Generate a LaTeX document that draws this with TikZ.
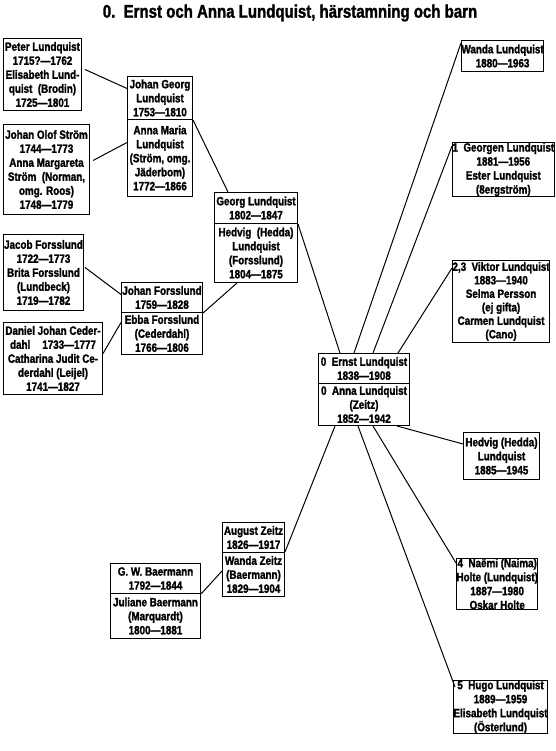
\documentclass[tikz,border=0pt]{standalone}
\usepackage{fontspec}
\setmainfont{Liberation Sans}[FakeStretch=0.82]
\newfontfamily\heavyfont{Liberation Sans Bold}[FakeStretch=0.82, FakeBold=1.6]
\usetikzlibrary{positioning}
\tikzset{
  box/.style={draw, line width=1pt, inner sep=0pt, align=center, anchor=north west,
    font=\fontsize{12}{14}\heavyfont},
  link/.style={line width=1pt},
  ttl/.style={font=\fontsize{18.3}{20}\heavyfont, inner sep=0pt}
}
\begin{document}
\begin{tikzpicture}[x=1pt,y=-1pt]
\useasboundingbox (0,0) rectangle (555,751);
\node[ttl] (title) at (290,13) {0.\ \ Ernst och Anna Lundquist, härstamning och barn};
% left ancestors
\node[box, minimum width=78pt, minimum height=72pt] (peter) at (3,38) {Peter Lundquist\\1715?—1762\\Elisabeth Lund-\\quist\ \ (Brodin)\\1725—1801};
\node[box, minimum width=86pt, minimum height=90pt] (jolof) at (3,124) {Johan Olof Ström\\1744—1773\\Anna Margareta\\Ström\ \ (Norman,\\omg. Roos)\\1748—1779};
\node[box, minimum width=65pt, minimum height=43pt] (jgeorg) at (127,76) {Johan Georg\\Lundquist\\1753—1810};
\node[box, minimum width=65pt, minimum height=77pt] (amaria) at (127,119) {Anna Maria\\Lundquist\\(Ström, omg.\\Jäderbom)\\1772—1866};
\node[box, minimum width=83pt, minimum height=31pt] (georg) at (214,192) {Georg Lundquist\\1802—1847};
\node[box, minimum width=83pt, minimum height=59pt] (hedvigF) at (214,223) {Hedvig\ \ (Hedda)\\Lundquist\\(Forsslund)\\1804—1875};
\node[box, minimum width=80pt, minimum height=76pt] (jacob) at (3,234) {Jacob Forsslund\\1722—1773\\Brita Forsslund\\(Lundbeck)\\1719—1782};
\node[box, minimum width=99pt, minimum height=72pt] (daniel) at (3,322) {Daniel Johan Ceder-\\dahl\quad 1733—1777\\Catharina Judit Ce-\\derdahl (Leijel)\\1741—1827};
\node[box, minimum width=81pt, minimum height=30pt] (jforss) at (121,282) {Johan Forsslund\\1759—1828};
\node[box, minimum width=81pt, minimum height=42pt] (ebba) at (121,312) {Ebba Forsslund\\(Cederdahl)\\1766—1806};
% centre
\node[box, minimum width=91pt, minimum height=30pt] (ernst) at (318,353) {0\ \ Ernst Lundquist\\1838—1908};
\node[box, minimum width=91pt, minimum height=42pt] (anna) at (318,383) {0\ \ Anna Lundquist\\(Zeitz)\\1852—1942};
% Zeitz / Baermann
\node[box, minimum width=62pt, minimum height=30pt] (august) at (222,522) {August Zeitz\\1826—1917};
\node[box, minimum width=62pt, minimum height=44pt] (wandaZ) at (222,552) {Wanda Zeitz\\(Baermann)\\1829—1904};
\node[box, minimum width=90pt, minimum height=30pt] (gw) at (110,563) {G. W. Baermann\\1792—1844};
\node[box, minimum width=90pt, minimum height=45pt] (juliane) at (110,593) {Juliane Baermann\\(Marquardt)\\1800—1881};
% children
\node[box, minimum width=76pt, minimum height=31pt] (wanda) at (461,40) {Wanda Lundquist\\1880—1963};
\node[box, minimum width=89pt, minimum height=54pt] (georgen) at (452,142) {1\ \ Georgen Lundquist\\1881—1956\\Ester Lundquist\\(8ergström)};
\node[box, minimum width=92pt, minimum height=82pt, font=\fontsize{12}{13.5}\heavyfont] (viktor) at (452,260) {2,3\ \ Viktor Lundquist\\1883—1940\\Selma Persson\\(ej gifta)\\Carmen Lundquist\\(Cano)};
\node[box, minimum width=76pt, minimum height=47pt] (hedvig) at (463,432) {Hedvig (Hedda)\\Lundquist\\1885—1945};
\node[box, minimum width=80pt, minimum height=49pt] (naemi) at (456,558) {4\ \ Naëmi (Naima)\\Holte (Lundquist)\\1887—1980\\Oskar Holte};
\node[box, minimum width=87pt, minimum height=52pt] (hugo) at (453,680) {5\ \ Hugo Lundquist\\1889—1959\\Elisabeth Lundquist\\(Österlund)};
% connectors
\draw[link] ([xshift=3pt,yshift=5pt]peter.east) -- ([yshift=9.5pt]jgeorg.west);
\draw[link] ([xshift=3pt,yshift=9pt]jolof.east) -- ([yshift=15.5pt]amaria.west);
\draw[link] (jgeorg.south east) -- ([xshift=14pt]georg.north west);
\draw[link] ([xshift=1pt,yshift=5pt]jacob.east) -- ([yshift=3pt]jforss.west);
\draw[link] ([yshift=5pt]daniel.east) -- ([yshift=11pt]ebba.west);
\draw[link] (jforss.south east) -- ([xshift=23pt]hedvigF.south west);
\draw[link] (georg.south east) -- ([xshift=22pt]ernst.north west);
\draw[link] ([yshift=-3pt]wanda.north west) -- ([xshift=36pt]ernst.north west);
\draw[link] ([yshift=-4pt]georgen.north west) -- ([xshift=55pt]ernst.north west);
\draw[link] ([yshift=-8pt]viktor.north west) -- ([xshift=80pt]ernst.north west);
\draw[link] ([xshift=17pt]anna.south west) -- (wandaZ.north east);
\draw[link] ([xshift=40pt]anna.south west) -- ([xshift=2pt,yshift=-7pt]hugo.north west);
\draw[link] ([xshift=55pt]anna.south west) -- ([yshift=-5pt]naemi.north west);
\draw[link] ([xshift=79pt]anna.south west) -- ([yshift=-12pt]hedvig.north west);
\draw[link] (gw.south east) -- ([yshift=-19pt]wandaZ.north west);
\end{tikzpicture}
\end{document}
